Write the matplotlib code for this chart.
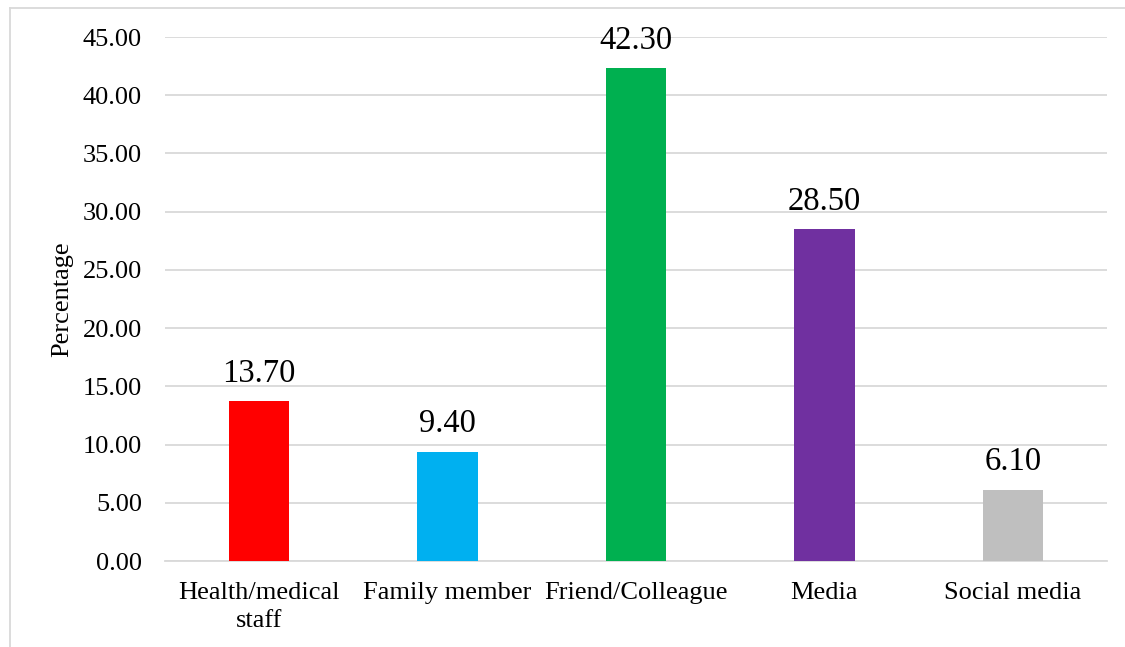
"""Bar chart of information sources (percentage)."""

import matplotlib

matplotlib.use("Agg")
import matplotlib.pyplot as plt
from matplotlib.lines import Line2D

categories = ["Health/medical\nstaff", "Family member", "Friend/Colleague", "Media", "Social media"]
values = [13.70, 9.40, 42.30, 28.50, 6.10]
colors = ["#FF0000", "#00B0F0", "#00B050", "#7030A0", "#BFBFBF"]
yticks = [0, 5, 10, 15, 20, 25, 30, 35, 40, 45]

plt.rcParams["font.family"] = ["Liberation Serif", "DejaVu Serif"]

fig = plt.figure(figsize=(11.25, 6.47), dpi=100)
ax = fig.add_axes([0.1467, 0.1329, 0.8373, 0.8099])

x = range(len(categories))
bars = ax.bar(x, values, width=0.32, color=colors, zorder=3)
for b, v in zip(bars, values):
    ax.annotate(f"{v:.2f}", (b.get_x() + b.get_width() / 2, v),
                xytext=(0, 9), textcoords="offset points",
                ha="center", va="bottom", fontsize=23.5)

ax.set_xlim(-0.5, len(categories) - 0.5)
ax.set_ylim(0, 45)
ax.set_yticks(yticks)
ax.set_yticklabels([f"{t:.2f}" for t in yticks])
ax.set_xticks(list(x))
ax.set_xticklabels(categories, linespacing=1.35)
ax.tick_params(axis="y", length=0, pad=16.5, labelsize=19)
ax.tick_params(axis="x", length=0, pad=15, labelsize=19)
ax.grid(axis="y", color="#D9D9D9", lw=1.3, zorder=0)
for s in ["top", "right", "left"]:
    ax.spines[s].set_visible(False)
ax.spines["bottom"].set_color("#D9D9D9")
ax.spines["bottom"].set_linewidth(1.3)

ax.set_ylabel("Percentage", fontsize=19)
ax.yaxis.set_label_coords(-0.097, 0.5)

# light frame around chart area (top and left edges visible)
fig.add_artist(Line2D([10 / 1125, 10 / 1125], [0, 1 - 8 / 647], transform=fig.transFigure,
                      color="#D9D9D9", lw=1.3))
fig.add_artist(Line2D([10 / 1125, 1], [1 - 8 / 647, 1 - 8 / 647], transform=fig.transFigure,
                      color="#D9D9D9", lw=1.3))

fig.savefig("out.png", dpi=100)
